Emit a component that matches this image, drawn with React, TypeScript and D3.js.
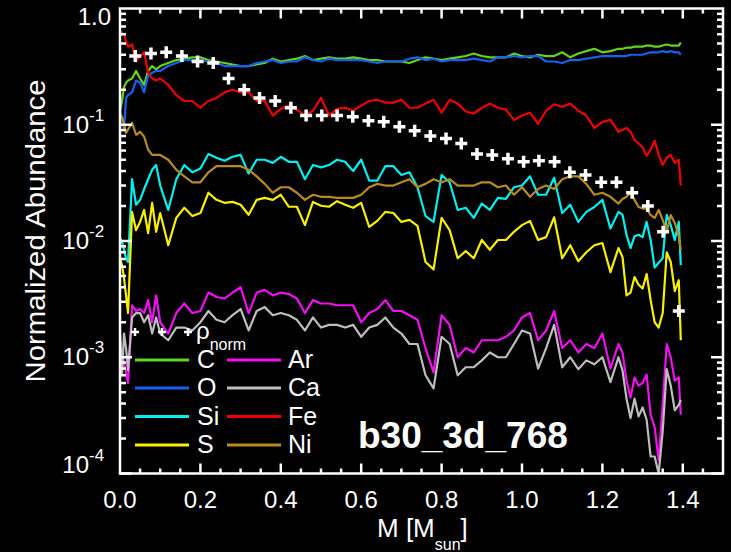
import React, { useEffect, useRef } from "react";
import * as d3 from "d3";

// enclosed mass [M_sun] of each shell
const mass = [
  0, 0.005, 0.01, 0.015, 0.02, 0.03, 0.04, 0.05, 0.06, 0.07, 0.08, 0.09, 0.1,
  0.12, 0.14, 0.16, 0.18, 0.2, 0.22, 0.24, 0.26, 0.28, 0.3, 0.32, 0.34, 0.36, 0.38, 0.4, 0.42, 0.44, 0.46, 0.48, 0.5,
  0.52, 0.54, 0.56, 0.58, 0.6, 0.62, 0.64, 0.66, 0.68, 0.7, 0.72, 0.74, 0.76, 0.78, 0.8, 0.82, 0.84, 0.86, 0.88, 0.9,
  0.92, 0.94, 0.96, 0.98, 1.0, 1.02, 1.04, 1.06, 1.08, 1.1, 1.12, 1.14, 1.16, 1.18, 1.2, 1.22, 1.24,
  1.25, 1.26, 1.27, 1.28, 1.29, 1.3, 1.31, 1.32, 1.33, 1.34, 1.35, 1.36, 1.37, 1.38, 1.39, 1.395,
];

const abundC = [
  0.13, 0.16, 0.21, 0.23, 0.24, 0.25, 0.29, 0.25, 0.22, 0.29, 0.32, 0.3, 0.32,
  0.34, 0.36, 0.37, 0.38, 0.38, 0.36, 0.35, 0.34, 0.33, 0.32, 0.32, 0.33, 0.34, 0.37, 0.35, 0.36, 0.37, 0.39, 0.36, 0.37,
  0.38, 0.37, 0.37, 0.38, 0.37, 0.36, 0.36, 0.35, 0.35, 0.35, 0.34, 0.36, 0.38, 0.37, 0.36, 0.37, 0.38, 0.39, 0.41, 0.39,
  0.38, 0.38, 0.38, 0.41, 0.39, 0.38, 0.4, 0.39, 0.39, 0.42, 0.38, 0.41, 0.43, 0.45, 0.42, 0.43, 0.45,
  0.45, 0.46, 0.46, 0.47, 0.47, 0.47, 0.48, 0.48, 0.47, 0.47, 0.48, 0.49, 0.48, 0.48, 0.48, 0.51,
];

const abundO = [
  0.13, 0.115, 0.09, 0.17, 0.18, 0.19, 0.24, 0.23, 0.19, 0.265, 0.28, 0.29, 0.29,
  0.32, 0.34, 0.36, 0.36, 0.36, 0.35, 0.34, 0.32, 0.32, 0.32, 0.32, 0.34, 0.35, 0.36, 0.34, 0.35, 0.35, 0.38, 0.36, 0.35,
  0.37, 0.36, 0.36, 0.36, 0.36, 0.35, 0.34, 0.35, 0.35, 0.35, 0.37, 0.38, 0.36, 0.37, 0.35, 0.36, 0.36, 0.36, 0.37, 0.36,
  0.35, 0.38, 0.38, 0.39, 0.38, 0.39, 0.39, 0.35, 0.35, 0.34, 0.36, 0.36, 0.37, 0.38, 0.39, 0.39, 0.39,
  0.39, 0.39, 0.4, 0.4, 0.4, 0.4, 0.41, 0.42, 0.42, 0.42, 0.43, 0.42, 0.43, 0.42, 0.42, 0.4,
];

const abundSi = [
  0.0106, 0.0098, 0.0084, 0.0071, 0.0066, 0.034, 0.0205, 0.0226, 0.028, 0.034, 0.041, 0.045, 0.03,
  0.0185, 0.034, 0.045, 0.039, 0.042, 0.056, 0.052, 0.049, 0.053, 0.055, 0.038, 0.05, 0.05, 0.047, 0.053, 0.048, 0.048, 0.034, 0.045, 0.043,
  0.045, 0.05, 0.048, 0.04, 0.05, 0.033, 0.033, 0.044, 0.044, 0.037, 0.039, 0.029, 0.0164, 0.0146, 0.037, 0.032, 0.0185, 0.0193, 0.0158, 0.021,
  0.0185, 0.0235, 0.023, 0.029, 0.03, 0.036, 0.025, 0.025, 0.035, 0.0174, 0.0205, 0.0146, 0.0178, 0.0196, 0.0226, 0.0128, 0.0178,
  0.0168, 0.0113, 0.0087, 0.011, 0.0113, 0.0108, 0.0146, 0.0102, 0.0059, 0.0065, 0.0071, 0.0168, 0.0137, 0.0102, 0.0146, 0.0062,
];

const abundS = [
  0.0071, 0.0062, 0.0048, 0.0034, 0.0024, 0.0178, 0.0124, 0.0146, 0.0185, 0.0117, 0.0213, 0.012, 0.0174,
  0.0092, 0.0158, 0.0193, 0.0164, 0.0174, 0.026, 0.0226, 0.0213, 0.0217, 0.0205, 0.0168, 0.0226, 0.0235, 0.0226, 0.025, 0.0197, 0.0197, 0.0137, 0.0217, 0.0201,
  0.0197, 0.022, 0.0205, 0.0193, 0.0213, 0.0132, 0.0149, 0.0178, 0.0174, 0.0146, 0.0152, 0.0135, 0.0066, 0.0057, 0.0158, 0.0124, 0.0071, 0.0082, 0.0071, 0.0102,
  0.0084, 0.0102, 0.0102, 0.012, 0.0137, 0.0149, 0.0102, 0.0108, 0.016, 0.0071, 0.0092, 0.0067, 0.008, 0.0092, 0.0096, 0.0054, 0.0087,
  0.0073, 0.0034, 0.0036, 0.0049, 0.0042, 0.0039, 0.0052, 0.0031, 0.002, 0.0018, 0.0024, 0.008, 0.0066, 0.0037, 0.0046, 0.0014,
];

const abundAr = [
  0.0013, 0.0011, 0.0009, 0.00074, 0.0006, 0.0028, 0.0025, 0.0026, 0.0024, 0.0031, 0.002, 0.0034, 0.002,
  0.0016, 0.0024, 0.0029, 0.0024, 0.0025, 0.0036, 0.0033, 0.0032, 0.0036, 0.004, 0.0024, 0.0036, 0.0038, 0.0034, 0.0036, 0.0035, 0.0032, 0.0024, 0.0031, 0.0029,
  0.0029, 0.0028, 0.0028, 0.0028, 0.002, 0.0024, 0.0026, 0.0031, 0.0025, 0.0025, 0.0023, 0.0021, 0.0012, 0.00074, 0.0023, 0.0019, 0.001, 0.0012, 0.0011, 0.0014,
  0.0014, 0.0014, 0.0015, 0.0017, 0.0022, 0.0024, 0.0014, 0.0017, 0.0025, 0.0012, 0.0014, 0.0011, 0.0013, 0.0012, 0.0016, 0.0008, 0.0013,
  0.0011, 0.00063, 0.00045, 0.00067, 0.00057, 0.0006, 0.00071, 0.00032, 0.00025, 0.00013, 0.00039, 0.0013, 0.001, 0.00063, 0.00067, 0.00032,
];

const abundCa = [
  0.0017, 0.0007, 0.0016, 0.0012, 0.00077, 0.0022, 0.0024, 0.0024, 0.002, 0.0023, 0.0016, 0.0022, 0.0016,
  0.0014, 0.0018, 0.0018, 0.0017, 0.002, 0.0025, 0.0021, 0.002, 0.0023, 0.0026, 0.0017, 0.0025, 0.0027, 0.0023, 0.0024, 0.0023, 0.0021, 0.0017, 0.0022, 0.0018,
  0.0019, 0.0019, 0.0018, 0.0019, 0.0015, 0.0018, 0.0019, 0.0022, 0.0018, 0.0016, 0.0013, 0.0013, 0.0007, 0.00054, 0.0015, 0.0013, 0.0007, 0.00082, 0.00082, 0.00094,
  0.0011, 0.001, 0.001, 0.0013, 0.0017, 0.0016, 0.0008, 0.0012, 0.0019, 0.00082, 0.001, 0.00079, 0.00094, 0.00087, 0.001, 0.00061, 0.001,
  0.00077, 0.00044, 0.0003, 0.00044, 0.00031, 0.00037, 0.00029, 0.00014, 0.00014, 0.0001, 0.00023, 0.00079, 0.00057, 0.00035, 0.00039, 0.00043,
];

const abundFe = [
  0.63, 0.62, 0.6, 0.52, 0.47, 0.49, 0.35, 0.39, 0.42, 0.28, 0.25, 0.24, 0.25,
  0.22, 0.18, 0.16, 0.16, 0.14, 0.16, 0.17, 0.19, 0.2, 0.19, 0.19, 0.16, 0.16, 0.12, 0.137, 0.146, 0.135, 0.12, 0.132, 0.17,
  0.12, 0.137, 0.14, 0.132, 0.146, 0.16, 0.164, 0.155, 0.155, 0.164, 0.14, 0.14, 0.152, 0.164, 0.127, 0.164, 0.152, 0.13, 0.125, 0.14,
  0.152, 0.14, 0.135, 0.11, 0.12, 0.127, 0.102, 0.132, 0.15, 0.143, 0.152, 0.132, 0.12, 0.094, 0.106, 0.11, 0.087,
  0.09, 0.094, 0.087, 0.074, 0.069, 0.064, 0.054, 0.061, 0.073, 0.055, 0.045, 0.052, 0.055, 0.047, 0.05, 0.03,
];

const abundNi = [
  0.122, 0.117, 0.1, 0.085, 0.091, 0.104, 0.082, 0.087, 0.079, 0.061, 0.055, 0.055, 0.055,
  0.05, 0.041, 0.036, 0.032, 0.032, 0.039, 0.044, 0.044, 0.044, 0.044, 0.041, 0.036, 0.031, 0.026, 0.029, 0.029, 0.026, 0.0226, 0.025, 0.024,
  0.024, 0.0235, 0.0235, 0.0235, 0.025, 0.029, 0.031, 0.03, 0.03, 0.032, 0.034, 0.029, 0.031, 0.034, 0.032, 0.034, 0.03, 0.03, 0.03, 0.032,
  0.032, 0.029, 0.03, 0.025, 0.029, 0.024, 0.028, 0.03, 0.028, 0.034, 0.036, 0.036, 0.031, 0.025, 0.026, 0.024, 0.021,
  0.023, 0.024, 0.026, 0.0226, 0.0196, 0.019, 0.019, 0.0167, 0.0158, 0.0185, 0.0152, 0.012, 0.0167, 0.0143, 0.011, 0.0084,
];

// normalised density, plotted as plus signs
const rhoMass = [
  0.038, 0.077, 0.115, 0.154, 0.193, 0.232, 0.27, 0.309, 0.347, 0.386, 0.425, 0.463, 0.502, 0.54, 0.579, 0.618, 0.656, 0.695,
  0.733, 0.772, 0.811, 0.849, 0.888, 0.926, 0.965, 1.004, 1.042, 1.081, 1.119, 1.158, 1.197, 1.235, 1.274, 1.313, 1.351, 1.39,
];
const rhoNorm = [
  0.39, 0.41, 0.42, 0.39, 0.35, 0.34, 0.25, 0.2, 0.17, 0.16, 0.14, 0.12, 0.12, 0.12, 0.117, 0.108, 0.106, 0.096,
  0.089, 0.08, 0.076, 0.069, 0.056, 0.055, 0.051, 0.048, 0.049, 0.048, 0.039, 0.037, 0.032, 0.032, 0.026, 0.02, 0.012, 0.0025,
];

const xTicks = [0, 0.2, 0.4, 0.6, 0.8, 1.0, 1.2, 1.4];
const xTickLabels = ["0.0", "0.2", "0.4", "0.6", "0.8", "1.0", "1.2", "1.4"];
const yTicks = [1, 0.1, 0.01, 0.001, 0.0001];
const yTickBase = ["1.0", "10", "10", "10", "10"];
const yTickExp = ["", "-1", "-2", "-3", "-4"];

const series = [
  { name: "C", values: abundC, color: "#62d41c" },
  { name: "O", values: abundO, color: "#1860ee" },
  { name: "Si", values: abundSi, color: "#00f0f0" },
  { name: "S", values: abundS, color: "#f8f000" },
  { name: "Ar", values: abundAr, color: "#f010f0" },
  { name: "Ca", values: abundCa, color: "#bebebe" },
  { name: "Fe", values: abundFe, color: "#f00000" },
  { name: "Ni", values: abundNi, color: "#b88a22" },
];

const FONT = "'Liberation Sans', Arial, Helvetica, sans-serif";

const App = () => {
  const svgRef = useRef<SVGSVGElement>(null);

  useEffect(() => {
    const W = 731;
    const H = 552;
    const svg = d3.select(svgRef.current);
    svg.selectAll("*").remove();

    const x = d3.scaleLinear().domain([0, 1.5]).range([120, 723]);
    const y = d3.scaleLog().domain([1e-4, 1]).range([473.5, 8.5]);
    const [x0, x1] = x.range();
    const [y0, y1] = y.range();

    svg.append("rect").attr("width", W).attr("height", H).attr("fill", "black");

    svg
      .append("defs")
      .append("clipPath")
      .attr("id", "plotClip")
      .append("rect")
      .attr("x", x0)
      .attr("y", y1)
      .attr("width", x1 - x0)
      .attr("height", y0 - y1);

    const plot = svg.append("g").attr("clip-path", "url(#plotClip)");

    const line = d3
      .line<number>()
      .x((d, i) => x(mass[i]))
      .y((d) => y(d));

    series.forEach((s) => {
      plot
        .append("path")
        .attr("d", line(s.values))
        .attr("fill", "none")
        .attr("stroke", s.color)
        .attr("stroke-width", 2.2)
        .attr("stroke-linejoin", "round");
    });

    plot
      .selectAll("path.rho")
      .data(rhoNorm)
      .join("path")
      .attr("class", "rho")
      .attr("transform", (d, i) => `translate(${x(rhoMass[i])},${y(d)})`)
      .attr("d", "M-6,0H6M0,-6V6")
      .attr("stroke", "white")
      .attr("stroke-width", 3.5);

    // frame + ticks
    const axes = svg.append("g").attr("stroke", "white").attr("stroke-width", 2.5);
    axes
      .append("rect")
      .attr("x", x0)
      .attr("y", y1)
      .attr("width", x1 - x0)
      .attr("height", y0 - y1)
      .attr("fill", "none");

    const xMinor = d3.range(1, 30).map((k) => k * 0.05);
    xMinor.forEach((v) => {
      const major = Math.abs(v / 0.2 - Math.round(v / 0.2)) < 1e-6;
      const len = major ? 10 : 5;
      axes.append("line").attr("x1", x(v)).attr("x2", x(v)).attr("y1", y0).attr("y2", y0 - len);
      axes.append("line").attr("x1", x(v)).attr("x2", x(v)).attr("y1", y1).attr("y2", y1 + len);
    });

    const yAll: { v: number; major: boolean }[] = [];
    [-4, -3, -2, -1].forEach((e) => {
      for (let m = 1; m <= 9; m++) yAll.push({ v: m * Math.pow(10, e), major: m === 1 });
    });
    yAll.forEach(({ v, major }) => {
      const len = major ? 12 : 6;
      axes.append("line").attr("x1", x0).attr("x2", x0 + len).attr("y1", y(v)).attr("y2", y(v));
      axes.append("line").attr("x1", x1).attr("x2", x1 - len).attr("y1", y(v)).attr("y2", y(v));
    });

    // tick labels
    const labels = svg.append("g").attr("fill", "white").style("font-family", FONT);
    xTicks.forEach((v, i) => {
      labels
        .append("text")
        .attr("x", x(v))
        .attr("y", 508)
        .attr("text-anchor", "middle")
        .style("font-size", "24px")
        .text(xTickLabels[i]);
    });
    yTicks.forEach((v, i) => {
      const base = Math.min(Math.max(y(v) + 8, 25), 473);
      if (yTickExp[i] === "") {
        labels
          .append("text")
          .attr("x", 111)
          .attr("y", base)
          .attr("text-anchor", "end")
          .style("font-size", "24px")
          .text(yTickBase[i]);
      } else {
        labels
          .append("text")
          .attr("x", 89)
          .attr("y", base)
          .attr("text-anchor", "end")
          .style("font-size", "24px")
          .text(yTickBase[i]);
        labels
          .append("text")
          .attr("x", 89)
          .attr("y", base - 12)
          .style("font-size", "17px")
          .text(yTickExp[i]);
      }
    });

    // axis titles
    labels
      .append("text")
      .attr("transform", "translate(45,231) rotate(-90)")
      .attr("text-anchor", "middle")
      .attr("textLength", 303)
      .attr("lengthAdjust", "spacingAndGlyphs")
      .style("font-size", "27px")
      .text("Normalized Abundance");

    const xt = labels.append("text").attr("x", 377).attr("y", 537).style("font-size", "26px");
    xt.append("tspan").text("M [M");
    xt.append("tspan").attr("dy", 13).style("font-size", "16px").text("sun");
    xt.append("tspan").attr("dy", -13).text("]");

    // legend
    const leg = svg.append("g");
    [135, 162, 188].forEach((px) => {
      leg
        .append("path")
        .attr("transform", `translate(${px},332)`)
        .attr("d", "M-4,0H4M0,-4V4")
        .attr("stroke", "white")
        .attr("stroke-width", 2.5);
    });
    const rt = leg
      .append("text")
      .attr("x", 196)
      .attr("y", 339)
      .attr("fill", "white")
      .style("font-family", FONT)
      .style("font-size", "24px");
    rt.append("tspan").text("ρ");
    rt.append("tspan").attr("dy", 11).style("font-size", "16px").text("norm");

    const rowY = [360, 388, 416.5, 445];
    series.forEach((s, i) => {
      const col = Math.floor(i / 4);
      const ly = rowY[i % 4];
      const lx = col === 0 ? 135 : 227;
      leg
        .append("line")
        .attr("x1", lx)
        .attr("x2", lx + 54)
        .attr("y1", ly)
        .attr("y2", ly)
        .attr("stroke", s.color)
        .attr("stroke-width", 3);
      leg
        .append("text")
        .attr("x", col === 0 ? 197 : 288)
        .attr("y", ly + 8)
        .attr("fill", "white")
        .style("font-family", FONT)
        .style("font-size", "25px")
        .text(s.name);
    });

    svg
      .append("text")
      .attr("x", 358)
      .attr("y", 448)
      .attr("fill", "white")
      .style("font-family", FONT)
      .style("font-size", "37px")
      .style("font-weight", "bold")
      .text("b30_3d_768");
  }, []);

  return (
    <svg
      ref={svgRef}
      width={731}
      height={552}
      style={{ position: "absolute", left: 0, top: 0, display: "block" }}
    ></svg>
  );
};

export default App;
